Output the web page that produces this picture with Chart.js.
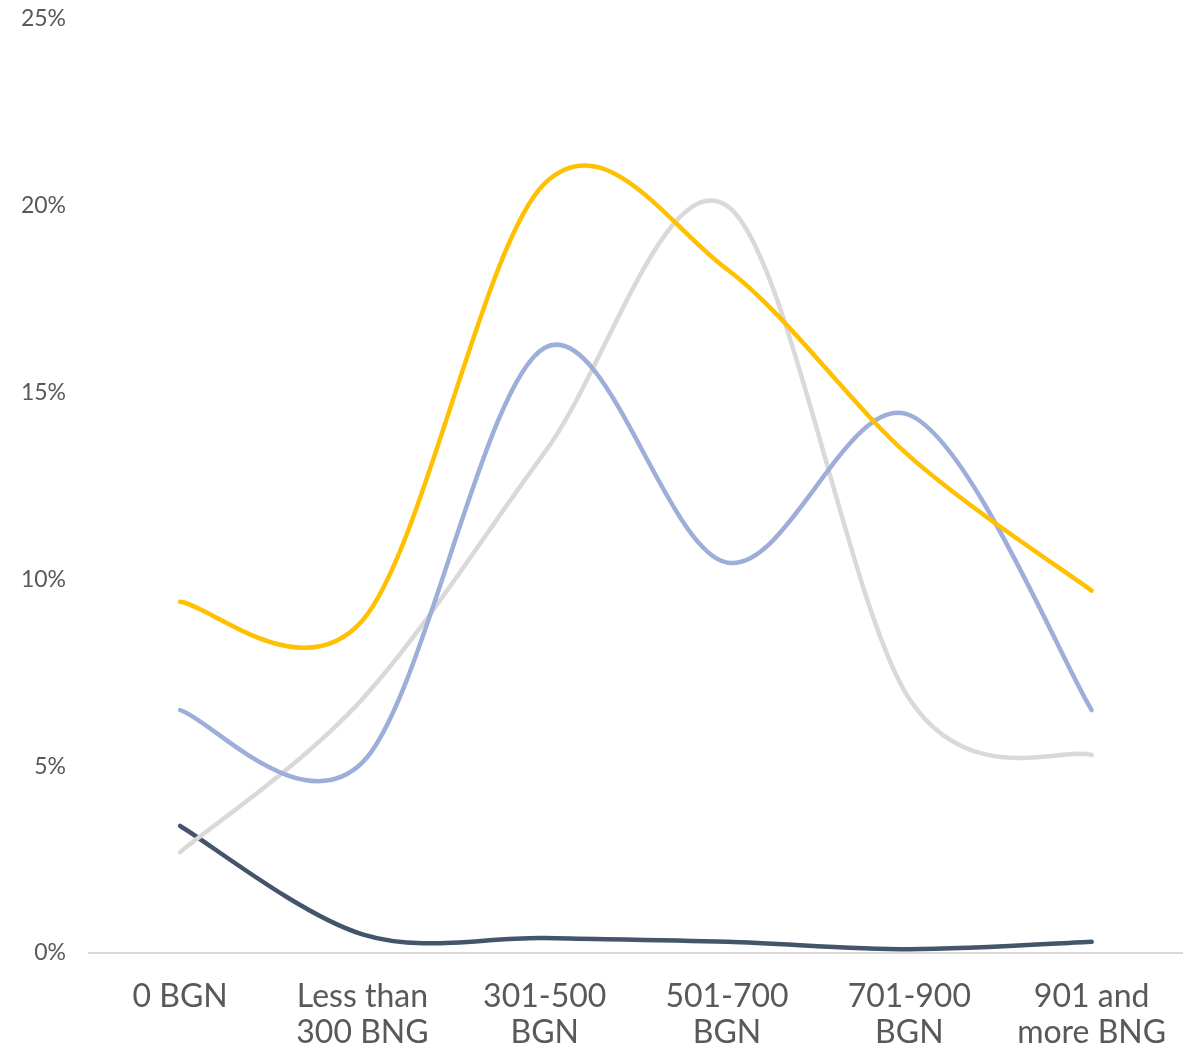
<!DOCTYPE html>
<html lang="en">
<head>
  <meta charset="UTF-8">
  <title>Income distribution</title>
  <script src="https://cdn.jsdelivr.net/npm/chart.js@4"></script>
  <style>
    * { margin: 0; padding: 0; box-sizing: border-box; }
    body { background: #fff; font-family: Lato, 'Open Sans', sans-serif; }
    #wrap { width: 1193px; height: 1050px; position: relative; }
  </style>
</head>
<body>
  <div id="wrap"><canvas id="chart"></canvas></div>

  <script>
    const categories = [['0 BGN'], ['Less than', '300 BNG'], ['301-500', 'BGN'], ['501-700', 'BGN'], ['701-900', 'BGN'], ['901 and', 'more BNG']];
    const yellowSeries = [9.4, 8.9, 20.6, 18.3, 13.3, 9.7];
    const blueSeries = [6.5, 5.1, 16.2, 10.45, 14.4, 6.5];
    const greySeries = [2.7, 6.8, 13.4, 20.0, 6.8, 5.3];
    const darkSeries = [3.4, 0.5, 0.4, 0.3, 0.1, 0.3];
    const yTicks = [0, 5, 10, 15, 20, 25];

    const yellow = '#ffc000', blue = '#9dafd9', grey = '#d9d9d9', dark = '#44546a';
    const line = (label, data, color) => ({
      label, data, borderColor: color, backgroundColor: color,
      borderWidth: 4.5, pointRadius: 0, tension: 0.4, fill: false, borderCapStyle: 'round', clip: false
    });

    // Excel-style smoothing: uniform Catmull-Rom control points (1/6 of neighbour span)
    const catmullRom = {
      id: 'catmullRom',
      beforeDatasetsDraw(chart) {
        chart.data.datasets.forEach((ds, i) => {
          const meta = chart.getDatasetMeta(i);
          meta.dataset.updateControlPoints(chart.chartArea);
          const pts = meta.data;
          pts.forEach((p, j) => {
            const prev = pts[Math.max(j - 1, 0)];
            const next = pts[Math.min(j + 1, pts.length - 1)];
            const dx = (next.x - prev.x) / 6, dy = (next.y - prev.y) / 6;
            p.cp1x = p.x - dx; p.cp1y = p.y - dy;
            p.cp2x = p.x + dx; p.cp2y = p.y + dy;
          });
        });
      }
    };

    new Chart(document.getElementById('chart'), {
      type: 'line',
      data: {
        labels: categories,
        datasets: [
          line('Series 1', yellowSeries, yellow),
          line('Series 2', blueSeries, blue),
          line('Series 3', greySeries, grey),
          line('Series 4', darkSeries, dark),
        ]
      },
      plugins: [catmullRom],
      options: {
        responsive: true,
        maintainAspectRatio: false,
        animation: false,
        layout: { padding: { top: 0, right: 10, left: 0, bottom: 0 } },
        plugins: { legend: { display: false }, tooltip: { enabled: false } },
        scales: {
          x: {
            offset: true,
            grid: { display: false, drawTicks: false },
            border: { color: '#d9d9d9', width: 2 },
            ticks: { color: '#595959', font: { family: 'Lato', size: 32, lineHeight: 1.12 }, padding: 26, maxRotation: 0, autoSkip: false },
            afterFit: (ax) => { ax.height = 97; ax.paddingTop = 0; ax.paddingBottom = 0; }
          },
          y: {
            min: 0, max: 25,
            afterBuildTicks: (ax) => { ax.ticks = yTicks.map(v => ({ value: v })); },
            afterFit: (ax) => { ax.width = 89; ax.paddingTop = 19; ax.paddingBottom = 0; },
            grid: { display: false, drawTicks: false },
            border: { display: false },
            ticks: { color: '#595959', font: { family: 'Lato', size: 23 }, padding: 23, callback: (v) => v + '%' }
          }
        }
      }
    });
  </script>
</body>
</html>
